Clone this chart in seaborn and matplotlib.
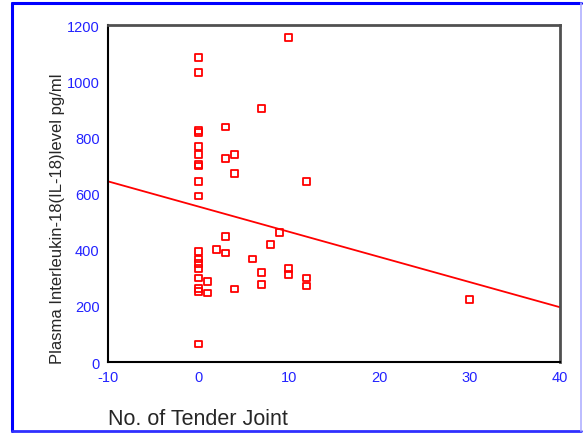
import matplotlib
matplotlib.use("Agg")
import matplotlib.pyplot as plt
import seaborn as sns
import pandas as pd
from matplotlib.lines import Line2D

# Tender joint count vs plasma IL-18
tender_joint = [0] * 18 + [1, 1, 2, 3, 3, 3, 3, 4, 4, 4, 6, 7, 7, 7, 8, 9,
                           10, 10, 10, 12, 12, 12, 30]
il18_level = [1085, 1032, 824, 816, 766, 738, 702, 698, 642, 591, 393, 367,
              350, 333, 299, 263, 251, 64,
              288, 246, 400, 837, 726, 448, 388, 738, 670, 260, 367, 904,
              319, 275, 419, 460, 1156, 332, 311, 642, 299, 271, 224]
x_ticks = [-10, 0, 10, 20, 30, 40]
y_ticks = [0, 200, 400, 600, 800, 1000, 1200]

df = pd.DataFrame({"tender": tender_joint, "il18": il18_level})

sns.set_style("white")
plt.rcParams["font.family"] = ["Liberation Sans", "DejaVu Sans"]
plt.rcParams["axes.unicode_minus"] = False

fig = plt.figure(figsize=(5.83, 4.35), dpi=100)
ax = fig.add_axes([0.1852, 0.1655, 0.7753, 0.7747])
ax.set_xlim(-10, 40)
ax.set_ylim(0, 1200)

sns.scatterplot(data=df, x="tender", y="il18", marker="s", s=24,
                facecolor="none", edgecolor="#ff0000", linewidth=1.3, ax=ax)
# fit line spans the whole x range like the original
sns.regplot(data=df, x="tender", y="il18", scatter=False, ci=None,
            truncate=False, color="#ff0000", line_kws={"linewidth": 1.3}, ax=ax)

ax.set_xlim(-10, 40)
ax.set_ylim(0, 1200)
ax.set_xticks(x_ticks)
ax.set_yticks(y_ticks)
ax.set_xlabel("")
ax.set_ylabel("")
ax.tick_params(axis="both", colors="black", labelcolor="#2222ff",
               labelsize=10.5, length=3, width=2, direction="out", pad=3)

for side in ["left", "bottom"]:
    ax.spines[side].set_color("black")
    ax.spines[side].set_linewidth(1.5)
for side in ["top", "right"]:
    ax.spines[side].set_visible(True)
    ax.spines[side].set_color("#505050")
    ax.spines[side].set_linewidth(2)

fig.text(0.1852, 0.023, "No. of Tender Joint", fontsize=15.5,
         ha="left", va="baseline")
fig.text(0.098, 0.498, "Plasma Interleukin-18(IL-18)level pg/ml", fontsize=12,
         rotation=90, ha="center", va="center")

# blue outer frame
fig.add_artist(Line2D([12 / 583, 12 / 583], [3 / 435, 431 / 435],
                      transform=fig.transFigure, color="#0000ff", lw=2.2))
fig.add_artist(Line2D([12 / 583, 581 / 583], [431 / 435, 431 / 435],
                      transform=fig.transFigure, color="#0000ff", lw=2.2))
fig.add_artist(Line2D([12 / 583, 581 / 583], [3 / 435, 3 / 435],
                      transform=fig.transFigure, color="#3030ff", lw=2))
fig.add_artist(Line2D([581 / 583, 581 / 583], [3 / 435, 431 / 435],
                      transform=fig.transFigure, color="#b0b0ff", lw=1.2))

fig.savefig("out.png", dpi=100)
